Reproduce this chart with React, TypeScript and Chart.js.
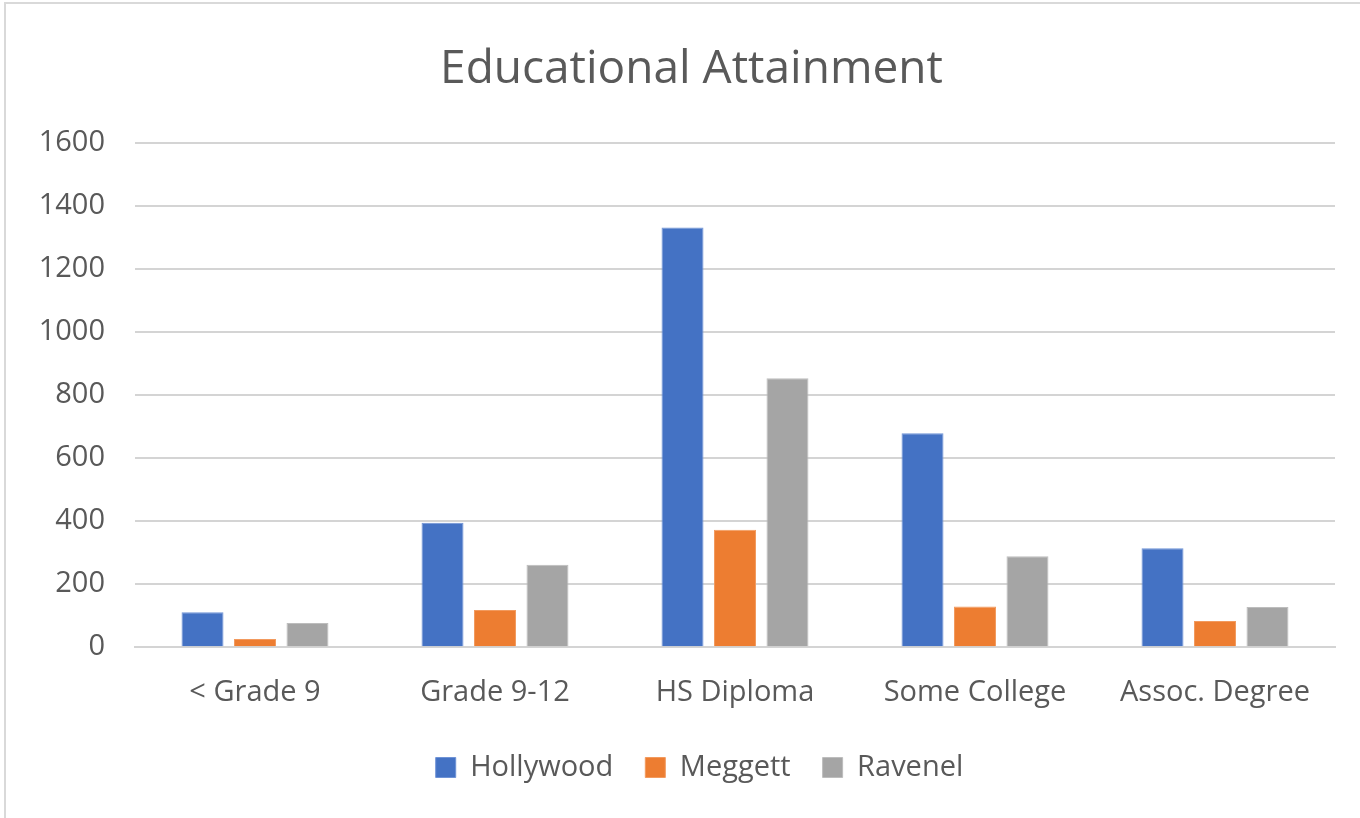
import React, { useEffect, useRef } from "react";
import { Chart, registerables } from "chart.js";

Chart.register(...registerables);

const categories = ["< Grade 9", "Grade 9-12", "HS Diploma", "Some College", "Assoc. Degree"];
const hollywood = [111, 395, 1332, 679, 314];
const meggett = [26, 118, 373, 129, 83];
const ravenel = [77, 262, 854, 289, 128];
const yTicks = [0, 200, 400, 600, 800, 1000, 1200, 1400, 1600];

const FONT = "'Open Sans', 'Noto Sans', sans-serif";
const TEXT = "#595959";

const shiftBoxes = {
  id: "shiftBoxes",
  afterLayout(chart: any) {
    if (chart.titleBlock) {
      chart.titleBlock.left += 24;
      chart.titleBlock.right += 24;
    }
    if (chart.legend) {
      chart.legend.left += 32;
      chart.legend.right += 32;
      if (chart.legend.adjustHitBoxes) chart.legend.adjustHitBoxes();
    }
  },
};

export default function App() {
  const ref = useRef<HTMLCanvasElement | null>(null);
  useEffect(() => {
    document.body.style.margin = "0";
    const ctx = ref.current!;
    const chart = new Chart(ctx, {
      type: "bar",
      data: {
        labels: categories,
        datasets: [
          { label: "Hollywood", data: hollywood, backgroundColor: "#4472C4", borderColor: "#6f93d6", borderWidth: 1 },
          { label: "Meggett", data: meggett, backgroundColor: "#ED7D31", borderColor: "#f29a5e", borderWidth: 1 },
          { label: "Ravenel", data: ravenel, backgroundColor: "#A5A5A5", borderColor: "#bdbdbd", borderWidth: 1 },
        ],
      },
      plugins: [shiftBoxes],
      options: {
        responsive: false,
        animation: false,
        layout: { padding: { left: 0, right: 25, top: 0, bottom: 26 } },
        datasets: { bar: { categoryPercentage: 0.656, barPercentage: 0.8 } },
        plugins: {
          title: {
            display: true,
            text: "Educational Attainment",
            color: TEXT,
            font: { family: FONT, size: 46, weight: "normal" },
            padding: { top: 42, bottom: 46 },
          },
          legend: {
            position: "bottom",
            labels: {
              color: TEXT,
              font: { family: FONT, size: 29 },
              boxWidth: 20,
              boxHeight: 20,
              padding: 32,
            },
          },
          tooltip: { enabled: false },
        },
        scales: {
          x: {
            grid: { display: false },
            border: { display: true, color: "#d4d4d4", width: 2 },
            ticks: { color: TEXT, font: { family: FONT, size: 29 }, padding: 20, maxRotation: 0 },
            afterFit: (axis: any) => {
              axis.height -= 9;
            },
          },
          y: {
            min: 0,
            max: 1600,
            afterBuildTicks: (axis: any) => {
              axis.ticks = yTicks.map((v) => ({ value: v }));
            },
            afterFit: (axis: any) => {
              axis.width = 135;
            },
            grid: { color: "#d4d4d4", lineWidth: 2, drawTicks: false },
            border: { display: false },
            ticks: {
              color: TEXT,
              font: { family: FONT, size: 29 },
              padding: 30,
              callback: (v: any) => String(v),
            },
          },
        },
      },
    });
    return () => chart.destroy();
  }, []);
  return (
    <div style={{ position: "relative", width: 1360, height: 818, background: "#fff" }}>
      <div
        style={{
          position: "absolute",
          left: 4,
          top: 2,
          right: 0,
          bottom: 0,
          borderLeft: "2px solid #d9d9d9",
          borderTop: "2px solid #d9d9d9",
          pointerEvents: "none",
        }}
      />
      <canvas ref={ref} width={1360} height={818} style={{ display: "block" }} />
    </div>
  );
}
